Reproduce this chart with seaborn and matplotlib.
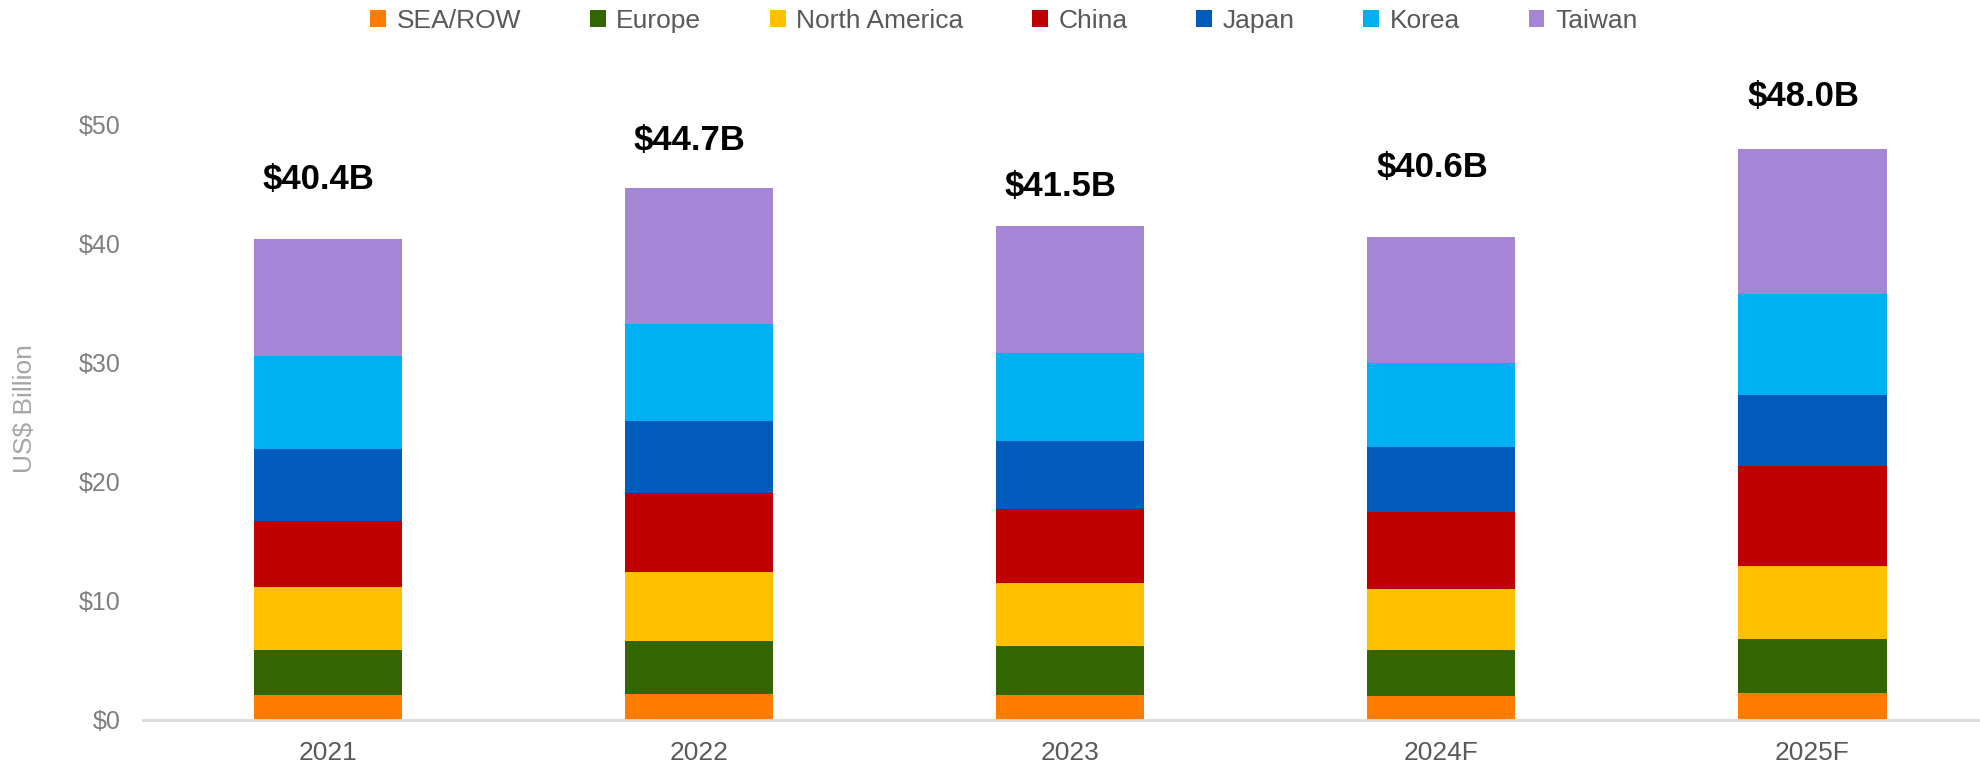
import pandas as pd
import matplotlib
matplotlib.use('Agg')
import matplotlib.pyplot as plt
from matplotlib.patches import Patch
import seaborn as sns

# data (US$ billion)
years = ['2021', '2022', '2023', '2024F', '2025F']
regions = ['SEA/ROW', 'Europe', 'North America', 'China', 'Japan', 'Korea', 'Taiwan']
sea_row = [2.1, 2.2, 2.1, 2.0, 2.3]
europe = [3.8, 4.4, 4.1, 3.9, 4.5]
north_america = [5.3, 5.8, 5.3, 5.1, 6.1]
china = [5.5, 6.7, 6.2, 6.5, 8.4]
japan = [6.1, 6.0, 5.7, 5.4, 6.0]
korea = [7.8, 8.2, 7.4, 7.1, 8.5]
taiwan = [9.8, 11.4, 10.7, 10.6, 12.2]

colors = ['#FF7C00', '#336600', '#FFC000', '#C00000', '#005BBB', '#00B0F0', '#A586D6']
# vertical gap between bar top and the total label (hand placed in the original)
label_gap = [5.0, 4.0, 3.3, 5.8, 4.4]


def get_figure_data():
    df = pd.DataFrame({
        'Year': years,
        'SEA/ROW': sea_row,
        'Europe': europe,
        'North America': north_america,
        'China': china,
        'Japan': japan,
        'Korea': korea,
        'Taiwan': taiwan,
    })
    cum = df[regions].cumsum(axis=1)
    cum.insert(0, 'Year', df['Year'])
    return cum


def draw_figure(cum):
    sns.set_style('white')
    plt.rcParams['font.family'] = ['Liberation Sans', 'DejaVu Sans']

    fig = plt.figure(figsize=(19.8, 7.72), dpi=100)
    ax = fig.add_axes([0.072, 0.0674, 0.937, 0.848])

    # stacked bars: draw cumulative totals from the top layer down
    for region, color in zip(regions[::-1], colors[::-1]):
        sns.barplot(x='Year', y=region, data=cum, color=color, saturation=1,
                    width=0.4, edgecolor='none', linewidth=0, ax=ax, errorbar=None)

    for i, total in enumerate(cum['Taiwan']):
        ax.text(i - 0.025, total + label_gap[i], f'${total:.1f}B',
                ha='center', va='center', fontsize=25, fontweight='bold', color='black')

    ax.set_xlim(-0.5, 4.5)
    ax.set_ylim(0, 55)
    ax.set_yticks(range(0, 51, 10))
    ax.set_yticklabels([f'${v}' for v in range(0, 51, 10)])
    ax.tick_params(axis='y', length=0, pad=16, labelsize=18, labelcolor='#7F7F7F')
    ax.tick_params(axis='x', length=0, pad=15, labelsize=19, labelcolor='#595959')
    ax.set_xlabel('')
    ax.set_ylabel('US$ Billion', fontsize=19, color='#A6A6A6')
    ax.yaxis.set_label_coords(-0.057, 0.475)

    sns.despine(ax=ax, left=True)
    ax.spines['bottom'].set_color('#D9D9D9')
    ax.spines['bottom'].set_linewidth(2)

    handles = [Patch(facecolor=c, edgecolor='none', label=r) for r, c in zip(regions, colors)]
    fig.legend(handles=handles, loc='center', bbox_to_anchor=(0.507, 0.973), ncol=7,
               frameon=False, fontsize=19, handlelength=0.6, handleheight=0.6,
               handletextpad=0.4, columnspacing=2.6, labelcolor='#595959')

    fig.savefig('out.png', dpi=100)


def main():
    cum = get_figure_data()
    draw_figure(cum)


if __name__ == '__main__':
    main()
